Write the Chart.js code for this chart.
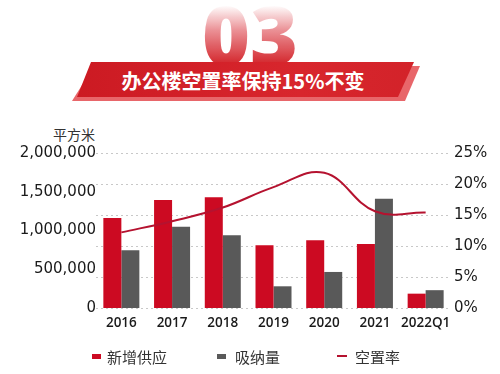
<!DOCTYPE html>
<html><head><meta charset="utf-8">
<script src="https://cdn.jsdelivr.net/npm/chart.js@4"></script>
<style>
html,body{margin:0;padding:0;background:#fff;}
#wrap{position:relative;width:500px;height:374px;overflow:hidden;font-family:"Noto Sans CJK SC",sans-serif;}
#c{position:absolute;left:0;top:0;}
#big{position:absolute;left:0;width:500px;top:-17px;text-align:center;font-family:"Open Sans",sans-serif;font-weight:800;font-size:82px;line-height:100px;letter-spacing:0px;
 background:linear-gradient(to bottom,rgba(214,30,40,0) 22%,rgba(214,30,40,0.5) 48%,#d42a30 80%);-webkit-background-clip:text;background-clip:text;color:transparent;}
#shadow{position:absolute;left:0;top:0;width:500px;height:110px;background:#e8666a;clip-path:polygon(94px 66px,420px 66px,405px 101px,72px 101px);}
#banner{position:absolute;left:0;top:0;width:500px;height:110px;background:linear-gradient(to right,#c8161f,#d8262d 60%,#cf2027);clip-path:polygon(91px 62px,414px 62px,398px 97px,77px 97px);}
#title{position:absolute;left:77px;width:332px;top:67px;text-align:center;color:#fff;font-weight:700;font-size:20px;line-height:28px;}
#unit{position:absolute;left:53px;top:124px;font-size:14px;color:#333;}
#legend{position:absolute;left:0;top:346px;width:500px;height:22px;}
.li{position:absolute;top:0;height:22px;font-size:15px;line-height:22px;color:#333;white-space:nowrap;}
.sw{position:absolute;}
</style></head>
<body><div id="wrap">
<div id="big">03</div>
<div id="shadow"></div>
<div id="banner"></div>
<div id="title">办公楼空置率保持15%不变</div>
<div id="unit">平方米</div>
<canvas id="c" width="500" height="374"></canvas>
<div id="legend"></div>
</div>
<script>
const categories = ['2016','2017','2018','2019','2020','2021','2022Q1'];
const supply = [1160000, 1395000, 1430000, 810000, 875000, 825000, 185000];
const absorption = [745000, 1050000, 940000, 280000, 465000, 1410000, 230000];
const vacancy = [12.2, 14.0, 16.2, 19.5, 21.8, 15.6, 15.4];
const leftTicks = [0, 500000, 1000000, 1500000, 2000000];
const rightTicks = [0, 5, 10, 15, 20, 25];
const seriesNames = ['新增供应', '吸纳量', '空置率'];

const RED = '#cc0a22', GREY = '#595959', LINE = '#b5122f';

const chart = new Chart(document.getElementById('c'), {
  data: {
    labels: categories,
    datasets: [
      {type:'line', label: seriesNames[2], data: vacancy, yAxisID:'yR', borderColor: LINE, borderWidth: 2,
       pointRadius: 0, tension: 0.4, order: 0, fill:false},
      {type:'bar', label: seriesNames[0], data: supply, yAxisID:'yL', backgroundColor: RED, order: 1,
       categoryPercentage: 0.71, barPercentage: 1.0},
      {type:'bar', label: seriesNames[1], data: absorption, yAxisID:'yL', backgroundColor: GREY, order: 1,
       categoryPercentage: 0.71, barPercentage: 1.0}
    ]
  },
  options: {
    responsive: false, animation: false,
    layout: {padding: {top: 153, bottom: 36, left: 0, right: 0}},
    plugins: {legend: {display: false}, tooltip: {enabled: false}},
    scales: {
      x: {
        grid: {display: false, drawTicks: false}, border: {display: false},
        ticks: {color: '#1a1a1a', padding: 7, maxRotation: 0, minRotation: 0, autoSkip: false,
                font: {family: '"Open Sans"', size: 13.5, weight: '600'}},
        afterFit: s => { s.height = 30; }
      },
      yL: {
        position: 'left', min: 0, max: 2000000,
        grid: {display: false, drawTicks: false}, border: {display: false},
        afterBuildTicks: s => { s.ticks = leftTicks.map(v => ({value: v})); },
        ticks: {color: '#1a1a1a', padding: 0, font: {family: '"DejaVu Sans"', size: 15},
                callback: v => v.toLocaleString('en-US')},
        afterFit: s => { s.width = 96; }
      },
      yR: {
        position: 'right', min: 0, max: 25,
        grid: {color: '#c8c8c8', lineWidth: 1, drawTicks: false},
        border: {display: false, dash: [2, 3]},
        afterBuildTicks: s => { s.ticks = rightTicks.map(v => ({value: v})); },
        ticks: {color: '#1a1a1a', padding: 3, font: {family: '"DejaVu Sans"', size: 15},
                callback: v => v + '%'},
        afterFit: s => { s.width = 49; }
      }
    }
  }
});

// HTML legend built from chart datasets
const lg = document.getElementById('legend');
const pos = [{sx:92, tx:107},{sx:217, tx:235},{sx:337, tx:355}];
const dsOrder = [1, 2, 0];
dsOrder.forEach((di, i) => {
  const ds = chart.data.datasets[di];
  const sw = document.createElement('div'); sw.className = 'sw';
  if (ds.type === 'line') {
    sw.style.cssText = `left:${pos[i].sx}px;top:9px;width:10px;height:2px;background:${ds.borderColor}`;
  } else {
    sw.style.cssText = `left:${pos[i].sx}px;top:8px;width:9px;height:5px;background:${ds.backgroundColor}`;
  }
  const t = document.createElement('div'); t.className = 'li';
  t.style.left = pos[i].tx + 'px'; t.textContent = ds.label;
  lg.appendChild(sw); lg.appendChild(t);
});
</script>
</body></html>
